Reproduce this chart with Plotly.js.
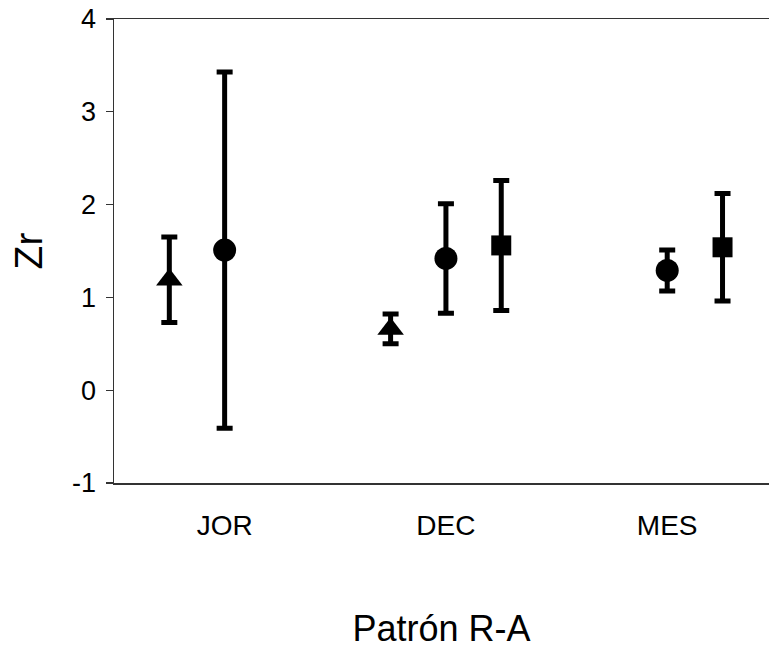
<!DOCTYPE html>
<html>
<head>
<meta charset="utf-8">
<script src="https://cdn.plot.ly/plotly-3.0.1.min.js"></script>
<style>html,body{margin:0;padding:0;background:#fff;}#chart{width:769px;height:650px;}</style>
</head>
<body>
<div id="chart"></div>
<script>
// Data
var categories = ["JOR", "DEC", "MES"];
var triangleValues = [1.19, 0.66, null];
var triangleErrors = [0.46, 0.16, null];
var circleValues = [1.51, 1.42, 1.29];
var circleErrors = [1.92, 0.59, 0.22];
var squareValues = [null, 1.56, 1.54];
var squareErrors = [null, 0.70, 0.58];
var yTickVals = [-1, 0, 1, 2, 3, 4];

var FONT = "Liberation Sans, Arial, sans-serif";

function makeTrace(vals, errs, symbol, size) {
  return {
    type: "scatter",
    mode: "markers",
    x: categories,
    y: vals,
    marker: {symbol: symbol, size: size, color: "#000"},
    error_y: {type: "data", array: errs, visible: true, color: "#000", thickness: 5, width: 8},
    showlegend: false,
    hoverinfo: "x+y"
  };
}

var data = [
  makeTrace(triangleValues, triangleErrors, "triangle-up", 23),
  makeTrace(circleValues, circleErrors, "circle", 23),
  makeTrace(squareValues, squareErrors, "square", 20)
];

var layout = {
  width: 769,
  height: 650,
  margin: {l: 114, r: 0, t: 19, b: 167},
  paper_bgcolor: "#fff",
  plot_bgcolor: "#fff",
  scattermode: "group",
  scattergap: 0.25,
  font: {family: FONT, color: "#000"},
  xaxis: {
    type: "category",
    categoryorder: "array",
    categoryarray: categories,
    range: [-0.5, 2.46],
    showline: true,
    linecolor: "#333",
    linewidth: 1.5,
    mirror: true,
    showgrid: false,
    zeroline: false,
    ticks: "",
    ticklabelstandoff: 17,
    tickfont: {family: FONT, size: 28, color: "#000"},
    title: {text: "Patrón R-A", font: {family: FONT, size: 36, color: "#000"}, standoff: 75}
  },
  yaxis: {
    range: [-1, 4],
    tickmode: "array",
    tickvals: yTickVals,
    ticktext: yTickVals.map(String),
    showline: true,
    linecolor: "#333",
    linewidth: 1.5,
    showgrid: false,
    zeroline: false,
    ticks: "outside",
    ticklen: 7,
    tickwidth: 1.2,
    tickcolor: "#333",
    ticklabelstandoff: 4,
    tickfont: {family: FONT, size: 27, color: "#000"},
    title: {text: "Zr", font: {family: FONT, size: 39, color: "#000"}, standoff: 17}
  }
};

Plotly.newPlot("chart", data, layout, {displayModeBar: false, staticPlot: true});
</script>
</body>
</html>
